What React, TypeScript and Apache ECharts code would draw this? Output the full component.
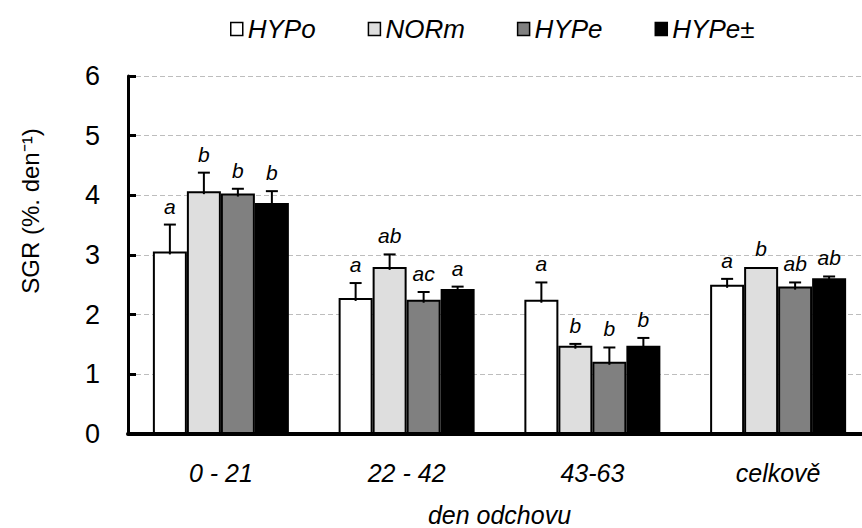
import React, { useEffect, useRef } from "react";
import * as echarts from "echarts";

// Specific growth rate by rearing period
const categories = ["0 - 21", "22 - 42", "43-63", "celkově"];
const seriesNames = ["HYPo", "NORm", "HYPe", "HYPe±"];

const hypoValues = [3.06, 2.28, 2.25, 2.5];
const normValues = [4.07, 2.8, 1.48, 2.8];
const hypeValues = [4.03, 2.25, 1.21, 2.47];
const hypePmValues = [3.87, 2.43, 1.48, 2.61];

const hypoErr = [0.45, 0.25, 0.29, 0.1];
const normErr = [0.31, 0.21, 0.03, 0.0];
const hypeErr = [0.08, 0.13, 0.24, 0.07];
const hypePmErr = [0.2, 0.04, 0.13, 0.03];

const hypoLetters = ["a", "a", "a", "a"];
const normLetters = ["b", "ab", "b", "b"];
const hypeLetters = ["b", "ac", "b", "ab"];
const hypePmLetters = ["b", "a", "b", "ab"];

const yTicks = [0, 1, 2, 3, 4, 5, 6];

const allValues = [hypoValues, normValues, hypeValues, hypePmValues];
const allErr = [hypoErr, normErr, hypeErr, hypePmErr];
const allLetters = [hypoLetters, normLetters, hypeLetters, hypePmLetters];
const fills = ["#ffffff", "#dedede", "#808080", "#000000"];

const FONT = "'Liberation Sans', Arial, sans-serif";
const BAR_W = 34;

export default function App() {
  const ref = useRef<HTMLDivElement>(null);

  useEffect(() => {
    if (!ref.current) return;
    const chart = echarts.init(ref.current, null, { renderer: "svg" });

    const barSeries = seriesNames.map((name, i) => ({
      name,
      type: "bar",
      data: allValues[i],
      barWidth: BAR_W,
      barGap: "0%",
      itemStyle: { color: fills[i], borderColor: "#000", borderWidth: 2 },
      z: 2,
    }));

    const errData: any[] = [];
    allValues.forEach((vals, si) => {
      vals.forEach((v, ci) => {
        errData.push([ci, v, allErr[si][ci], si, allLetters[si][ci]]);
      });
    });

    const errSeries = {
      name: "err",
      type: "custom",
      z: 5,
      data: errData,
      renderItem: (params: any, api: any) => {
        const ci = api.value(0);
        const v = api.value(1);
        const e = api.value(2);
        const si = api.value(3);
        const letter = errData[params.dataIndex][4];
        const cx = api.coord([ci, 0])[0];
        const x = cx + (si - 1.5) * BAR_W;
        const yVal = api.coord([ci, v])[1];
        const yTop = api.coord([ci, v + e])[1];
        const children: any[] = [];
        if (e > 0) {
          children.push({
            type: "line",
            shape: { x1: x, y1: yVal + 3, x2: x, y2: yTop },
            style: { stroke: "#000", lineWidth: 2 },
          });
          children.push({
            type: "line",
            shape: { x1: x - 6, y1: yTop, x2: x + 6, y2: yTop },
            style: { stroke: "#000", lineWidth: 2 },
          });
        }
        children.push({
          type: "text",
          x,
          y: yTop - 8,
          style: {
            text: letter,
            fill: "#000",
            font: `italic 21px ${FONT}`,
            textAlign: "center",
            textVerticalAlign: "bottom",
          },
        });
        return { type: "group", children };
      },
    };

    chart.setOption({
      animation: false,
      backgroundColor: "#ffffff",
      legend: {
        data: seriesNames,
        top: 11,
        left: 225,
        itemWidth: 12,
        itemHeight: 13,
        itemGap: 52,
        icon: "rect",
        itemStyle: { borderColor: "#000", borderWidth: 1.5 },
        textStyle: { fontFamily: FONT, fontStyle: "italic", fontSize: 26, color: "#000", padding: [0, 0, 0, 0] },
      },
      grid: { left: 128, right: -9, top: 76, bottom: 94, outerBoundsMode: "none", containLabel: false },
      xAxis: {
        type: "category",
        data: categories,
        name: "den odchovu",
        nameLocation: "middle",
        nameGap: 68,
        nameTextStyle: { fontFamily: FONT, fontStyle: "italic", fontSize: 25, color: "#000" },
        axisLine: { lineStyle: { color: "#000", width: 4 } },
        axisTick: { inside: true, length: 10, lineStyle: { color: "#000", width: 4 } },
        axisLabel: { margin: 26, fontFamily: FONT, fontStyle: "italic", fontSize: 25, color: "#000" },
      },
      yAxis: {
        type: "value",
        min: yTicks[0],
        max: yTicks[yTicks.length - 1],
        interval: 1,
        axisLine: { show: true, lineStyle: { color: "#000", width: 3 } },
        axisTick: { show: true, inside: true, length: 8, lineStyle: { color: "#000", width: 3 } },
        axisLabel: { margin: 28, fontFamily: FONT, fontSize: 27, color: "#000" },
        splitLine: { show: true, lineStyle: { color: "#bdbdbd", width: 1, type: [5, 3] } },
      },
      graphic: [
        {
          type: "text",
          x: 30,
          y: 211,
          rotation: Math.PI / 2,
          style: {
            text: "SGR (%. den⁻¹)",
            fill: "#000",
            font: `24px ${FONT}`,
            textAlign: "center",
            textVerticalAlign: "middle",
          },
        },
      ],
      series: [...barSeries, errSeries],
    });

    return () => chart.dispose();
  }, []);

  return (
    <div
      ref={ref}
      style={{ position: "fixed", left: 0, top: 0, width: 862, height: 528, background: "#fff" }}
    />
  );
}
